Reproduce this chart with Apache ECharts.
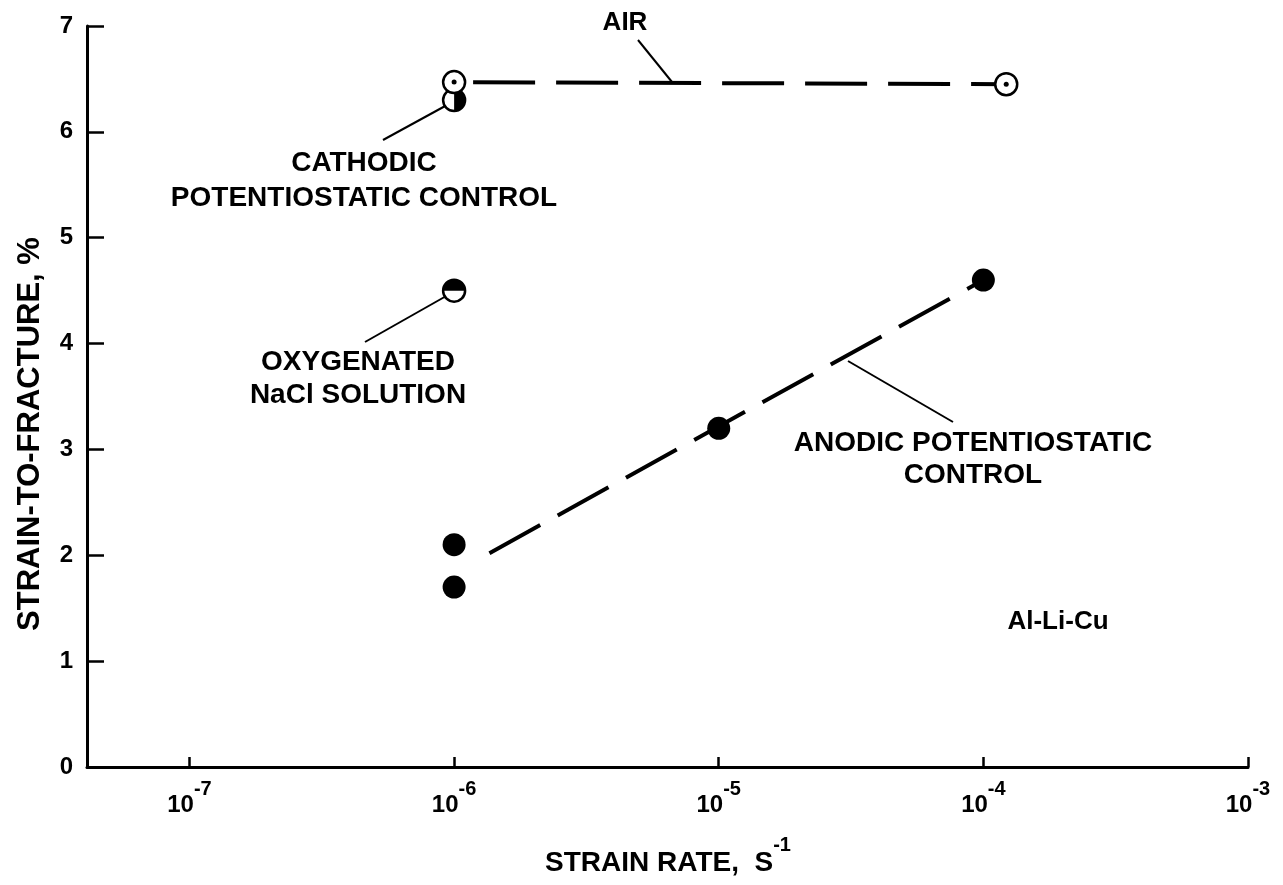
<!DOCTYPE html>
<html>
<head>
<meta charset="utf-8">
<script src="https://cdn.jsdelivr.net/npm/echarts@6/dist/echarts.min.js"></script>
<style>
  html, body { margin: 0; padding: 0; background: #fff; }
  #chart { width: 1283px; height: 885px; }
</style>
</head>
<body>
<div id="chart"></div>
<script>
// valeurs (strain rate en s^-1, strain-to-fracture en %)
const airX = [1e-6, 1.22e-4];
const airY = [6.47, 6.45];
const cathodicX = [1e-6];
const cathodicY = [6.3];
const naclX = [1e-6];
const naclY = [4.5];
const anodicX = [1e-6, 1e-6, 1e-5, 1e-4];
const anodicY = [2.1, 1.7, 3.2, 4.6];
const anodicFitX = [1.36e-6, 1e-4];
const anodicFitY = [2.02, 4.6];
const xTickExps = [-7, -6, -5, -4, -3];
const yTicks = [0, 1, 2, 3, 4, 5, 6, 7];

const FONT = "'Liberation Sans', Arial, sans-serif";
const pairs = (xs, ys) => xs.map((x, i) => [x, ys[i]]);

const chart = echarts.init(document.getElementById("chart"));

const openCircle = {
  color: "#fff",
  borderColor: "#000",
  borderWidth: 2.5,
  opacity: 1,
};
const solid = { color: "#000", opacity: 1 };

const option = {
  animation: false,
  backgroundColor: "#fff",
  grid: { left: 87, right: 35, top: 26, bottom: 118 },
  xAxis: {
    type: "log",
    logBase: 10,
    min: 4.1e-8,
    max: 1e-3,
    splitLine: { show: false },
    axisLine: { lineStyle: { color: "#000", width: 3 } },
    axisTick: { inside: true, length: 10, lineStyle: { color: "#000", width: 2.5 } },
    axisLabel: {
      margin: 12,
      showMinLabel: true,
      showMaxLabel: true,
      formatter: function (v) {
        const e = Math.log10(v);
        const r = Math.round(e);
        if (Math.abs(e - r) > 1e-6 || !xTickExps.includes(r)) return "";
        return "{b|10}{s|" + r + "}";
      },
      rich: {
        b: { fontSize: 24, fontWeight: "bold", fontFamily: FONT, color: "#000", verticalAlign: "bottom", lineHeight: 38 },
        s: { fontSize: 20, fontWeight: "bold", fontFamily: FONT, color: "#000", verticalAlign: "top", lineHeight: 38 },
      },
    },
  },
  yAxis: {
    type: "value",
    min: yTicks[0],
    max: yTicks[yTicks.length - 1],
    interval: 1,
    splitLine: { show: false },
    axisLine: { lineStyle: { color: "#000", width: 3 } },
    axisTick: { inside: true, length: 17, lineStyle: { color: "#000", width: 2.5 } },
    axisLabel: { margin: 14, fontSize: 24, fontWeight: "bold", fontFamily: FONT, color: "#000" },
  },
  series: [
    {
      name: "cathodic",
      type: "scatter",
      data: pairs(cathodicX, cathodicY),
      symbol: "circle",
      symbolSize: 22,
      itemStyle: openCircle,
      z: 2,
    },
    {
      name: "cathodic-half",
      type: "scatter",
      data: pairs(cathodicX, cathodicY),
      symbol: "path://M0,0 A10,10 0 0,1 0,20 Z",
      symbolSize: [11, 22],
      symbolOffset: [5.5, 0],
      itemStyle: solid,
      z: 3,
    },
    {
      name: "air",
      type: "line",
      data: pairs(airX, airY),
      symbol: "circle",
      symbolSize: 22,
      showAllSymbol: true,
      itemStyle: openCircle,
      lineStyle: { color: "#000", width: 4, type: [62, 21], dashOffset: 64 },
      z: 4,
    },
    {
      name: "air-dot",
      type: "scatter",
      data: pairs(airX, airY),
      symbol: "circle",
      symbolSize: 5,
      itemStyle: solid,
      z: 5,
    },
    {
      name: "nacl",
      type: "scatter",
      data: pairs(naclX, naclY),
      symbol: "circle",
      symbolSize: 22,
      itemStyle: openCircle,
      z: 2,
    },
    {
      name: "nacl-half",
      type: "scatter",
      data: pairs(naclX, naclY),
      symbol: "path://M0,10 A10,10 0 0,1 20,10 Z",
      symbolSize: [22, 11],
      symbolOffset: [0, -5.5],
      itemStyle: solid,
      z: 3,
    },
    {
      name: "anodic-fit",
      type: "line",
      data: pairs(anodicFitX, anodicFitY),
      showSymbol: false,
      lineStyle: { color: "#000", width: 4, type: [58, 20] },
      z: 2,
    },
    {
      name: "anodic",
      type: "scatter",
      data: pairs(anodicX, anodicY),
      symbol: "circle",
      symbolSize: 23,
      itemStyle: solid,
      z: 3,
    },
  ],
  graphic: [
    // titres des axes
    {
      type: "text",
      x: 30,
      y: 434,
      rotation: Math.PI / 2,
      style: {
        text: "STRAIN-TO-FRACTURE, %",
        fill: "#000",
        font: "bold 31px " + FONT,
        align: "center",
        verticalAlign: "middle",
      },
    },
    {
      type: "text",
      x: 668,
      y: 856,
      style: {
        text: "{t|STRAIN RATE,  S}{s|-1}",
        align: "center",
        verticalAlign: "middle",
        rich: {
          t: { fontSize: 28, fontWeight: "bold", fontFamily: FONT, fill: "#000", verticalAlign: "bottom", lineHeight: 42 },
          s: { fontSize: 20, fontWeight: "bold", fontFamily: FONT, fill: "#000", verticalAlign: "top", lineHeight: 42 },
        },
      },
    },
    // annotations
    { type: "text", x: 625, y: 23, style: { text: "AIR", fill: "#000", font: "bold 26px " + FONT, align: "center", verticalAlign: "middle" } },
    { type: "line", shape: { x1: 638, y1: 40, x2: 672, y2: 82 }, style: { stroke: "#000", lineWidth: 2 } },
    { type: "text", x: 364, y: 181, style: { text: "CATHODIC\nPOTENTIOSTATIC CONTROL", fill: "#000", font: "bold 28px " + FONT, lineHeight: 35, align: "center", verticalAlign: "middle" } },
    { type: "line", shape: { x1: 447, y1: 105, x2: 383, y2: 140 }, style: { stroke: "#000", lineWidth: 2 } },
    { type: "text", x: 358, y: 379, style: { text: "OXYGENATED\nNaCl SOLUTION", fill: "#000", font: "bold 28px " + FONT, lineHeight: 33, align: "center", verticalAlign: "middle" } },
    { type: "line", shape: { x1: 448, y1: 295, x2: 365, y2: 342 }, style: { stroke: "#000", lineWidth: 2 } },
    { type: "text", x: 973, y: 459, style: { text: "ANODIC POTENTIOSTATIC\nCONTROL", fill: "#000", font: "bold 28px " + FONT, lineHeight: 32, align: "center", verticalAlign: "middle" } },
    { type: "line", shape: { x1: 848, y1: 361, x2: 953, y2: 422 }, style: { stroke: "#000", lineWidth: 2 } },
    { type: "text", x: 1058, y: 622, style: { text: "Al-Li-Cu", fill: "#000", font: "bold 26px " + FONT, align: "center", verticalAlign: "middle" } },
  ],
};

chart.setOption(option);
</script>
</body>
</html>
